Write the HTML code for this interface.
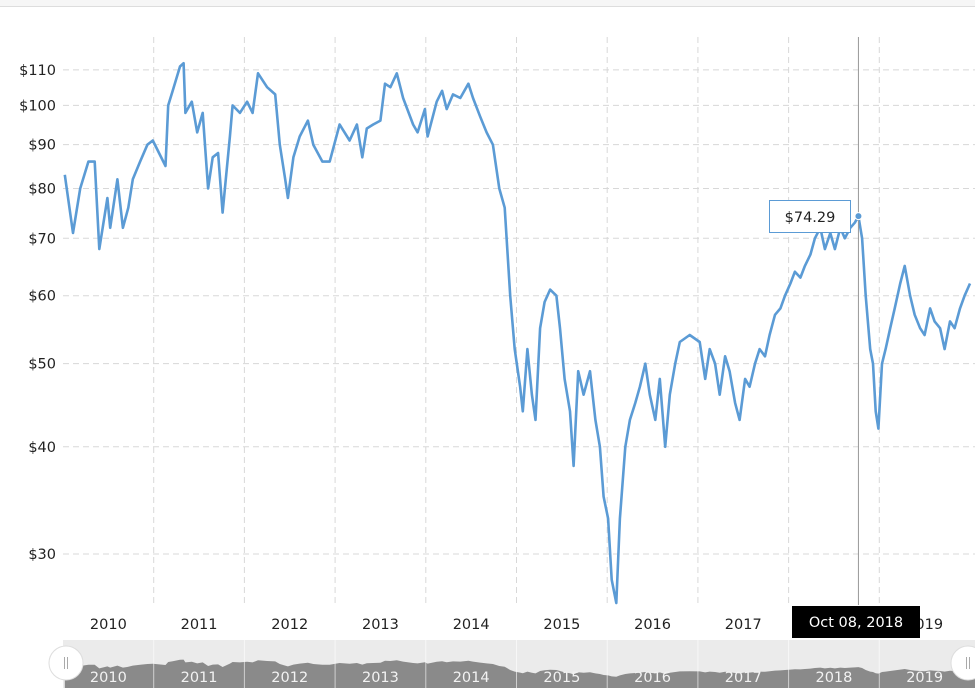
<!DOCTYPE html>
<html><head><meta charset="utf-8"><style>
html,body{margin:0;padding:0;background:#fff;}
svg{display:block;font-family:"DejaVu Sans","Liberation Sans",sans-serif;}
</style></head><body>
<svg id="chart" width="975" height="688" viewBox="0 0 975 688">
<rect x="0" y="0" width="975" height="6" fill="#f6f6f6"/>
<line x1="0" y1="6.5" x2="975" y2="6.5" stroke="#ddd"/>
<g id="grid"></g>
<g id="yaxis"></g>
<g id="xaxis"></g>
<g id="nav"></g>
<path id="line" fill="none" stroke="#5b9bd5" stroke-width="2.6" stroke-linejoin="round"/>
<g id="hover"></g>
</svg>
<script>
const yearOffsets=[0.02,0.11,0.19,0.28,0.35,0.40,0.49,0.52,0.60,0.66,0.72,0.77,0.85,0.93,0.99,1.13,1.16,1.21,1.29,1.33,1.35,1.42,1.48,1.54,1.60,1.65,1.71,1.76,1.84,1.87,1.95,2.03,2.09,2.15,2.25,2.34,2.39,2.45,2.48,2.54,2.61,2.70,2.76,2.86,2.94,3.05,3.16,3.24,3.30,3.35,3.42,3.50,3.55,3.61,3.68,3.75,3.86,3.91,3.99,4.02,4.12,4.18,4.23,4.30,4.38,4.47,4.52,4.60,4.67,4.74,4.81,4.87,4.93,4.98,5.04,5.07,5.12,5.17,5.21,5.26,5.31,5.37,5.44,5.48,5.53,5.59,5.63,5.68,5.74,5.81,5.87,5.92,5.96,6.01,6.05,6.10,6.14,6.20,6.25,6.31,6.36,6.42,6.47,6.53,6.58,6.64,6.69,6.75,6.80,6.91,7.02,7.08,7.13,7.19,7.24,7.30,7.35,7.41,7.46,7.52,7.57,7.63,7.68,7.74,7.79,7.85,7.91,7.96,8.02,8.07,8.13,8.18,8.24,8.29,8.35,8.40,8.46,8.51,8.57,8.62,8.68,8.73,8.77,8.81,8.85,8.90,8.93,8.96,8.99,9.03,9.07,9.12,9.17,9.23,9.28,9.34,9.39,9.45,9.50,9.56,9.61,9.67,9.72,9.78,9.83,9.89,9.94,10.00];
const prices=[83,71,80,86,86,68,78,72,82,72,76,82,86,90,91,85,100,104,111,112,98,101,93,98,80,87,88,75,92,100,98,101,98,109,105,103,90,82,78,87,92,96,90,86,86,95,91,95,87,94,95,96,106,105,109,102,95,93,99,92,101,104,99,103,102,106,102,97,93,90,80,76,60,52,47,44,52,46,43,55,59,61,60,55,48,44,38,49,46,49,43,40,35,33,28,26.3,33,40,43,45,47,50,46,43,48,40,46,50,53,54,53,48,52,50,46,51,49,45,43,48,47,50,52,51,54,57,58,60,62,64,63,65,67,70,72,68,71,68,72,70,72,73,74.29,70,60,52,50,44,42,50,52,55,58,62,65,60,57,55,54,58,56,55,52,56,55,58,60,62];
const yTicks=[30,40,50,60,70,80,90,100,110];
const xYears=[2010,2011,2012,2013,2014,2015,2016,2017,2018,2019];
const hoverYear=2018.77, hoverPrice=74.29, hoverLabel="Oct 08, 2018";

const NS="http://www.w3.org/2000/svg";
const X0=63, PXY=90.7;
const x=t=>X0+(t-2010)*PXY;
const y=p=>554-372.6*Math.log(p/30);
function mk(tag,attrs,parent,text){const e=document.createElementNS(NS,tag);for(const k in attrs)e.setAttribute(k,attrs[k]);if(text!=null)e.textContent=text;parent.appendChild(e);return e;}
const grid=document.getElementById('grid'),ya=document.getElementById('yaxis'),xa=document.getElementById('xaxis'),nav=document.getElementById('nav'),hov=document.getElementById('hover');
yTicks.forEach(v=>{
  const l=mk('line',{x1:63,x2:975,y1:y(v),y2:y(v),stroke:'#d8d8d8','stroke-dasharray':'6,4'},grid);
  
  
  const t=mk('text',{x:56,y:y(v)+5,'text-anchor':'end','font-size':14.5,fill:'#222'},ya,'$'+v);
  
  
});
xYears.forEach((yr,i)=>{
  if(i>0){const l=mk('line',{x1:x(yr),x2:x(yr),y1:37,y2:605,stroke:'#d8d8d8','stroke-dasharray':'6,4'},grid);
  
  }
  const t=mk('text',{x:x(yr+0.5),y:629,'text-anchor':'middle','font-size':14.5,fill:'#222'},xa,String(yr));
  
  
});
let d='';
prices.forEach((p,i)=>{d+=(i?'L':'M')+x(2010+yearOffsets[i]).toFixed(1)+','+y(p).toFixed(1);});
document.getElementById('line').setAttribute('d',d);
// navigator
const bg=mk('rect',{x:63,y:640,width:912,height:48,fill:'#ebebeb'},nav);


const ny=p=>668-(p-70)*0.2;
let nd='M'+x(2010+yearOffsets[0])+',688';
prices.forEach((p,i)=>{nd+='L'+x(2010+yearOffsets[i]).toFixed(1)+','+ny(p).toFixed(1);});
nd+='L975,'+ny(prices[prices.length-1]).toFixed(1)+'L975,688Z';
const na=mk('path',{d:nd,fill:'#8a8a8a'},nav);


xYears.forEach((yr,i)=>{
  if(i>0){const l=mk('line',{x1:x(yr),x2:x(yr),y1:640,y2:688,stroke:'#fff','stroke-opacity':0.6},nav);
  
  }
  const t=mk('text',{x:x(yr+0.5),y:682,'text-anchor':'middle','font-size':14.5,fill:'#f2f2f2'},nav,String(yr));
  
  
});
[[66,'navigator-left-handle'],[968,'navigator-right-handle']].forEach(h=>{
  const c=mk('circle',{cx:h[0],cy:663,r:17,fill:'#fff',stroke:'#ddd'},nav);
  
  
  mk('line',{x1:h[0]-1.5,x2:h[0]-1.5,y1:657,y2:669,stroke:'#aaa'},nav);
  mk('line',{x1:h[0]+1.5,x2:h[0]+1.5,y1:657,y2:669,stroke:'#aaa'},nav);
});
// hover
const hx=x(hoverYear), hy=y(hoverPrice);
const cl=mk('line',{x1:hx,x2:hx,y1:37,y2:605,stroke:'#999','stroke-width':1},hov);


const dot=mk('circle',{cx:hx,cy:hy,r:3.5,fill:'#5b9bd5',stroke:'#fff'},hov);


const tb=mk('rect',{x:769.5,y:200.5,width:81,height:32,fill:'#fff',stroke:'#5b9bd5'},hov);


const tt=mk('text',{x:810,y:222,'text-anchor':'middle','font-size':14.5,fill:'#222'},hov,'$'+hoverPrice.toFixed(2));


const lb=mk('rect',{x:792,y:606,width:128,height:32,fill:'#000'},hov);


const lt=mk('text',{x:856,y:627,'text-anchor':'middle','font-size':14.5,fill:'#fff'},hov,hoverLabel);


</script>
</body></html>
